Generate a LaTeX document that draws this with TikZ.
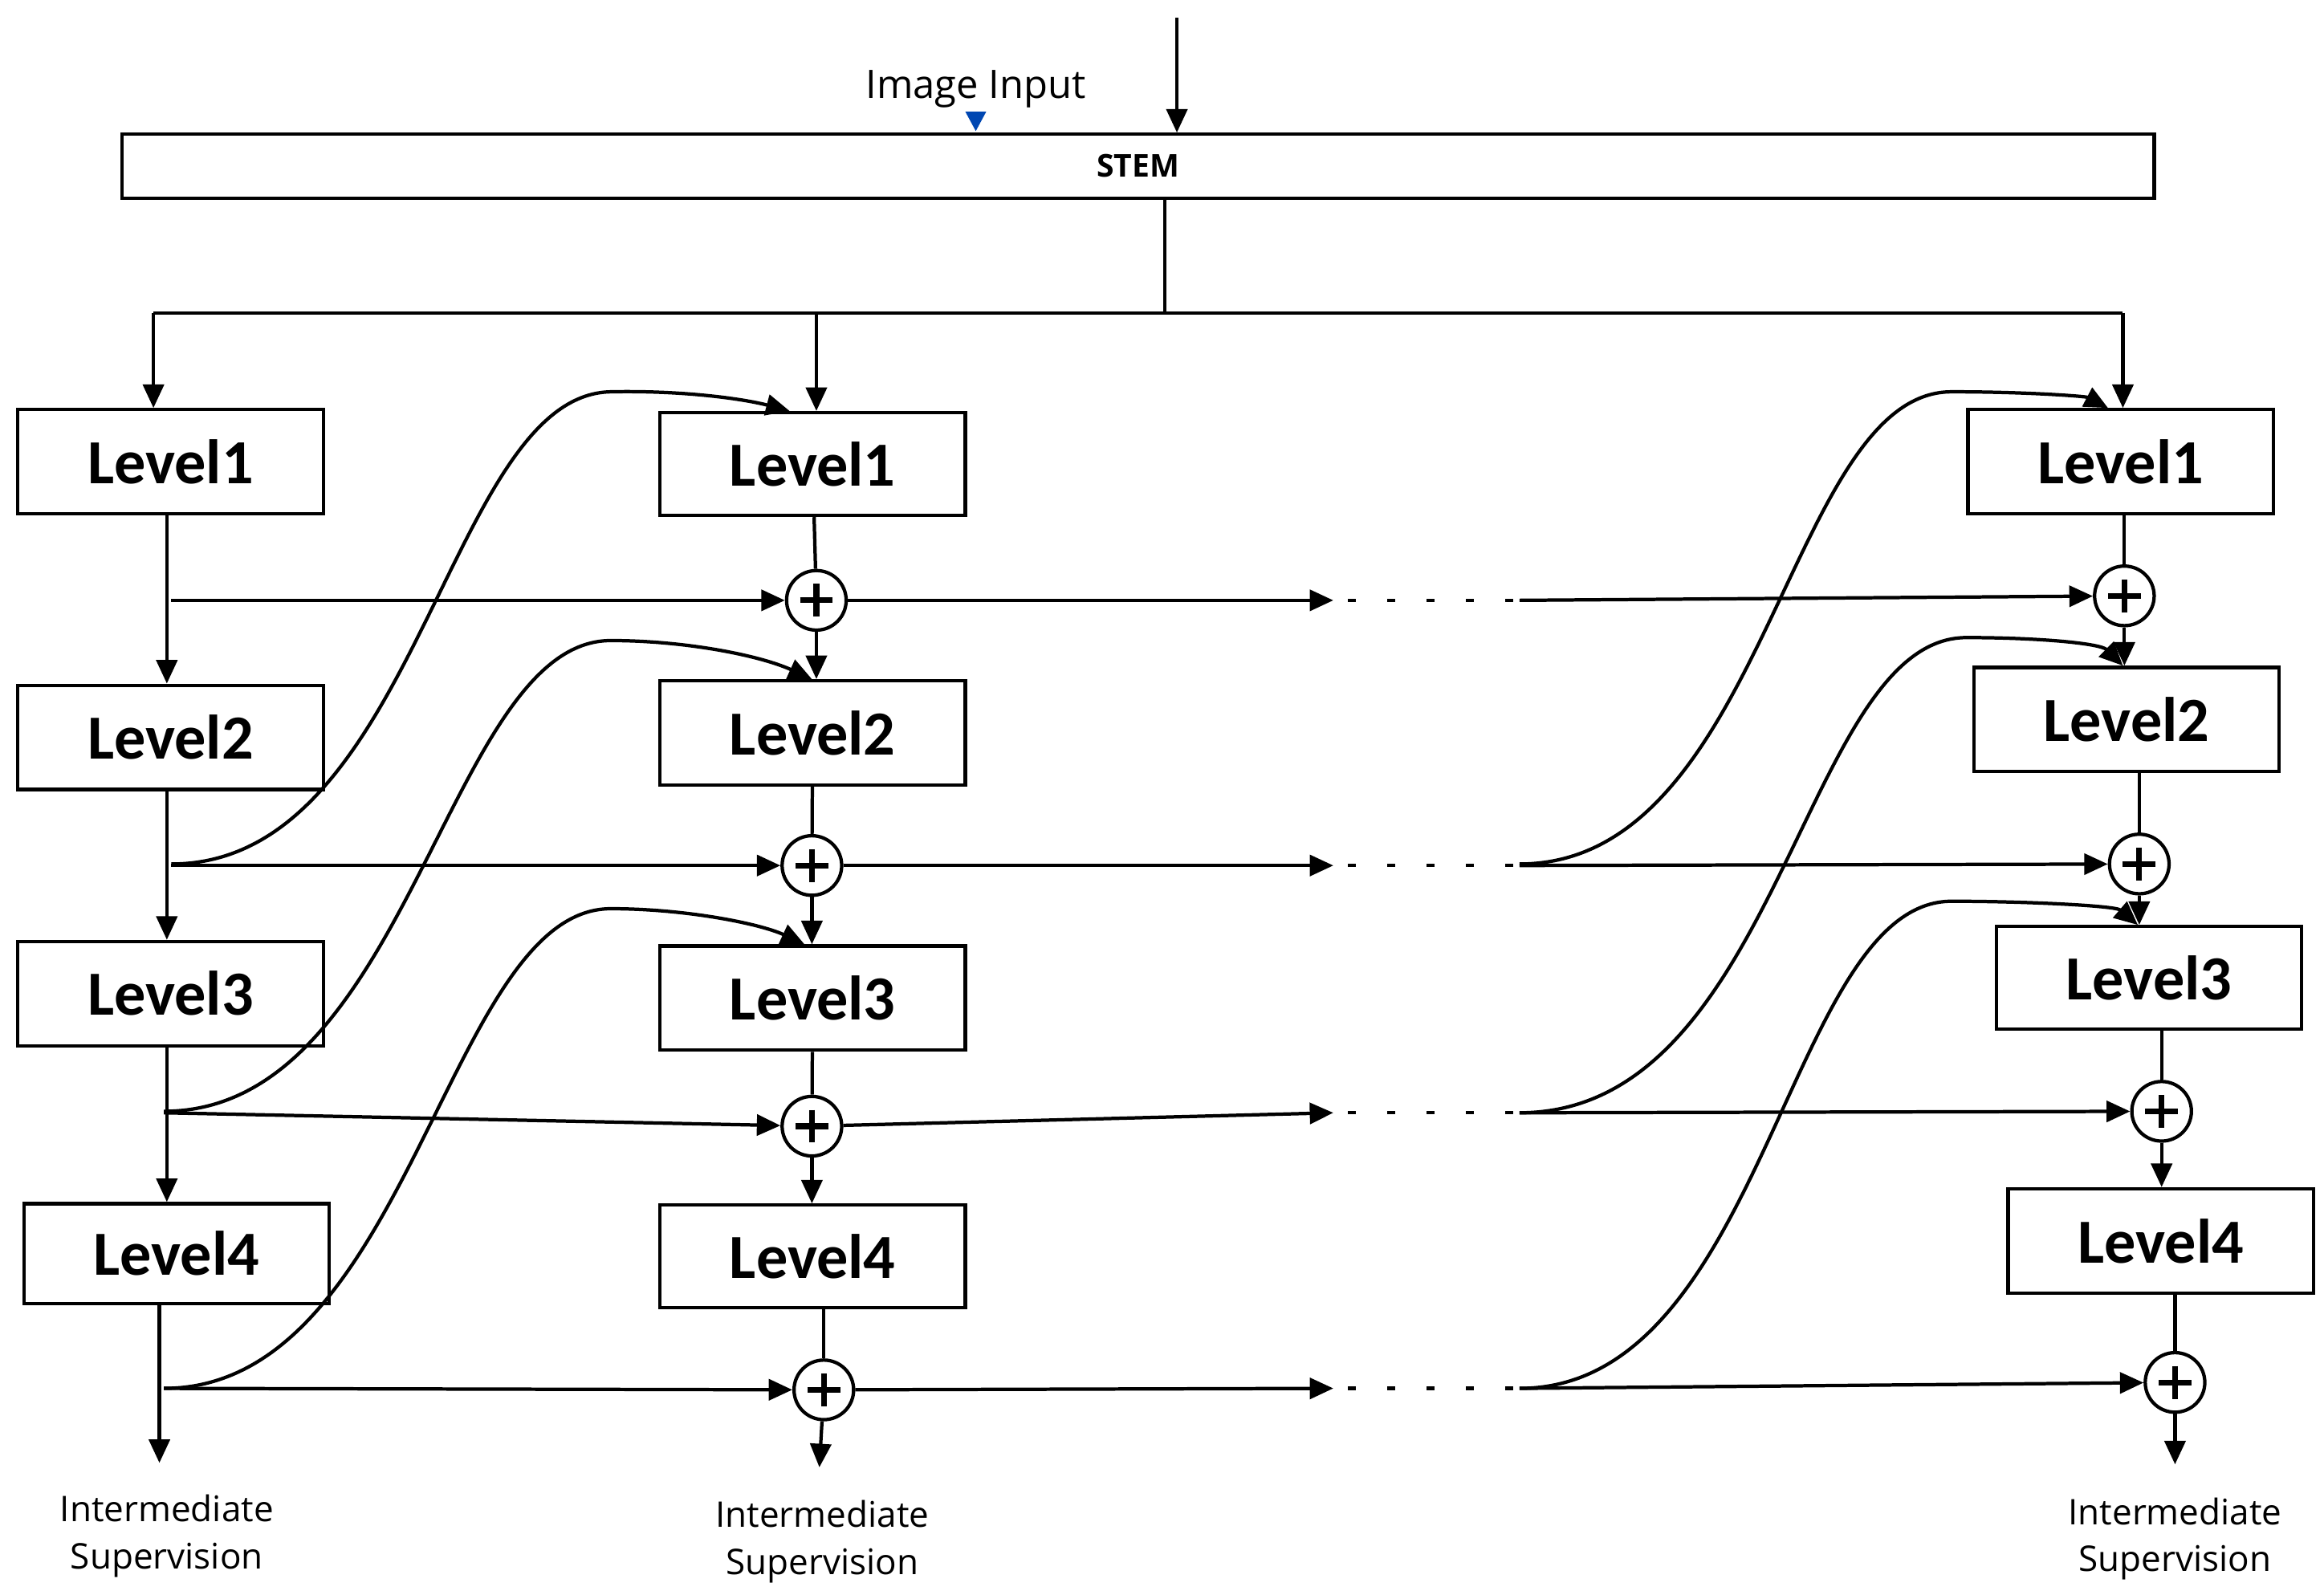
\documentclass[tikz,border=0pt]{standalone}
\usepackage{fontspec}
\setmainfont{Carlito}
\newfontfamily\osans{Open Sans}
\usetikzlibrary{arrows.meta}
\begin{document}
\begin{tikzpicture}[x=0.02cm,y=-0.02cm,
  lvl/.style={draw,line width=1.3pt,minimum width=205*0.02cm,minimum height=70*0.02cm,font=\fontsize{24}{26}\selectfont\bfseries,inner sep=0},
  pl/.style={draw,circle,line width=1.3pt,minimum size=40*0.02cm,inner sep=0},
  ln/.style={line width=1.3pt},
  ar/.style={line width=1.3pt,-{Triangle[length=9pt,width=8pt]}},
  sup/.style={font=\osans\fontsize{13.5}{18}\selectfont,align=center}]
\useasboundingbox (0,0) rectangle (1560,1068);
% stem
\node[draw,line width=1.3pt,minimum width=1364*0.02cm,minimum height=43*0.02cm,font=\osans\fontsize{12}{14}\selectfont\bfseries,inner sep=0] (stem) at (764,111.5) {STEM};
\coordinate (in) at (790,12);
\draw[ar] (in) -- (790,89);
\node[font=\osans\fontsize{15}{17}\selectfont] (img) at (655,60) {Image Input};
\fill[blue!60!cyan!70!black] (648,75) -- (662,75) -- (655,88) -- cycle;
% boxes col1
\node[lvl] (a1) at (114.5,310) {Level1};
\node[lvl] (a2) at (114.5,495) {Level2};
\node[lvl] (a3) at (114.5,667) {Level3};
\node[lvl,minimum height=67*0.02cm] (a4) at (118.5,841.5) {Level4};
% col2
\node[lvl,minimum height=69*0.02cm] (b1) at (545.5,311.5) {Level1};
\node[lvl] (b2) at (545.5,492) {Level2};
\node[lvl] (b3) at (545.5,670) {Level3};
\node[lvl,minimum height=69*0.02cm] (b4) at (545.5,843.5) {Level4};
% col3
\node[lvl] (c1) at (1423.5,310) {Level1};
\node[lvl] (c2) at (1427.5,483) {Level2};
\node[lvl,minimum height=69*0.02cm] (c3) at (1442.5,656.5) {Level3};
\node[lvl] (c4) at (1450.5,833) {Level4};
% plus
\foreach \n/\x/\y in {p1/548/403,p2/545/581,p3/545/756,p4/553/933,q1/1426/400,q2/1436/580,q3/1451/746,q4/1460/928}{
  \node[pl] (\n) at (\x,\y) {};
  \draw[line width=2.2pt] (\x-11,\y) -- (\x+11,\y) (\x,\y-11) -- (\x,\y+11);
}
% stem distribution
\coordinate (s0) at (782,210);
\draw[ln] (stem.south -| s0) -- (s0);
\draw[ln] (103,210) -- (1425,210);
\draw[ar] (103,210) -- (a1.north -| 103,0);
\draw[ar] (548,210) -- (b1.north -| 548,0);
\draw[ar] (1425,210) -- (c1.north -| 1425,0);
% col1 vertical
\draw[ar] (a1.south -| 112,0) -- (a2.north -| 112,0);
\draw[ar] (a2.south -| 112,0) -- (a3.north -| 112,0);
\draw[ar] (a3.south -| 112,0) -- (a4.north -| 112,0);
\coordinate (e1) at (107,982);
\draw[ar] (a4.south -| e1) -- (e1);
% col2 vertical
\draw[ln] (b1) -- (p1);
\draw[ar] (p1) -- (b2.north -| p1);
\draw[ln] (b2) -- (p2);
\draw[ar] (p2) -- (b3.north -| p2);
\draw[ln] (b3) -- (p3);
\draw[ar] (p3) -- (b4.north -| p3);
\draw[ln] (b4.south -| p4) -- (p4);
\coordinate (e2) at (550,985);
\draw[ar] (p4) -- (e2);
% col3 vertical
\draw[ln] (c1.south -| q1) -- (q1);
\draw[ar] (q1) -- (c2.north -| q1);
\draw[ln] (c2.south -| q2) -- (q2);
\draw[ar] (q2) -- (c3.north -| q2);
\draw[ln] (c3.south -| q3) -- (q3);
\draw[ar] (q3) -- (c4.north -| q3);
\draw[ln] (c4.south -| q4) -- (q4);
\coordinate (e3) at (1460,983);
\draw[ar] (q4) -- (e3);
% horizontals
\foreach \y/\p/\q/\xs in {403/p1/q1/115,581/p2/q2/115,747/p3/q3/110,932/p4/q4/110}{
  \coordinate (h\p) at (\xs,\y);
  \draw[ar] (h\p) -- (\p);
  \draw[ar] (\p) -- (895,\y);
  \draw[ln,dash pattern=on 3pt off 12pt] (905,\y) -- (1020,\y);
  \draw[ar] (1020,\y) -- (\q);
}
% curves col1->col2
\draw[ar] (115,580) .. controls (280,580) and (300,265) .. (410,263) .. controls (460,262) and (500,268) .. (b1.north -| 530,0);
\draw[ar] (110,746) .. controls (275,746) and (300,430) .. (410,430) .. controls (460,430) and (510,440) .. (b2.north -| 545,0);
\draw[ar] (110,932) .. controls (275,932) and (300,610) .. (410,610) .. controls (460,610) and (510,620) .. (b3.north -| 540,0);
% curves to col3
\draw[ar] (1020,580) .. controls (1185,580) and (1200,263) .. (1310,263) .. controls (1360,263) and (1400,266) .. (c1.north -| 1415,0);
\draw[ar] (1020,747) .. controls (1195,747) and (1210,428) .. (1320,428) .. controls (1370,428) and (1410,432) .. (c2.north -| 1425,0);
\draw[ar] (1020,932) .. controls (1185,932) and (1200,605) .. (1310,605) .. controls (1360,605) and (1420,608) .. (c3.north -| 1435,0);
% text
\node[sup] (t1) at (112,1031) {Intermediate\\Supervision};
\node[sup] (t2) at (552,1035) {Intermediate\\Supervision};
\node[sup] (t3) at (1460,1033) {Intermediate\\Supervision};
\end{tikzpicture}
\end{document}
